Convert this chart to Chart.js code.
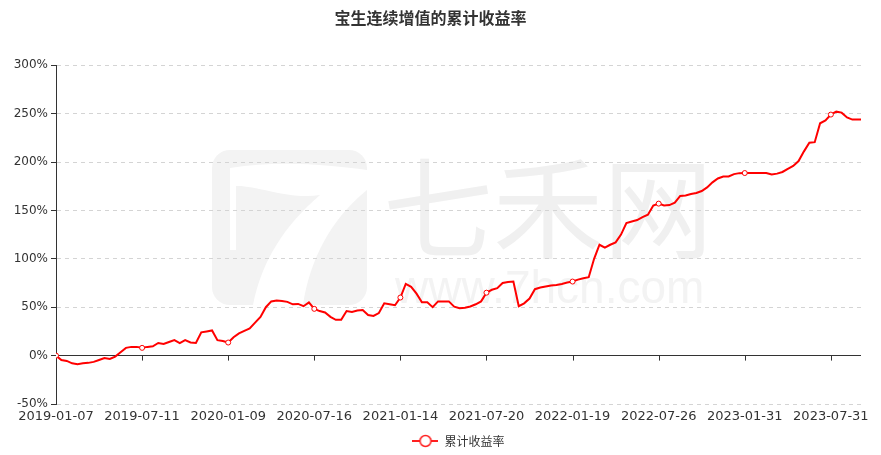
<!DOCTYPE html>
<html>
<head>
<meta charset="utf-8">
<script src="https://cdn.jsdelivr.net/npm/chart.js@4.4.0/dist/chart.umd.min.js"></script>
<style>
  html, body { margin: 0; padding: 0; background: #fff; }
</style>
</head>
<body>
<canvas id="chart" width="881" height="455"></canvas>
<script>
const chartTitle = '宝生连续增值的累计收益率';
const seriesName = '累计收益率';

// x轴刻度日期, 每隔16个采样点一个
const tickDates = ['2019-01-07', '2019-07-11', '2020-01-09', '2020-07-16', '2021-01-14',
  '2021-07-20', '2022-01-19', '2022-07-26', '2023-01-31', '2023-07-31'];
const pointsPerTick = 16;

// 累计收益率 (%)
const returns = [
  0, -4.5, -5.5, -8, -8.8, -8, -7.5, -6.5, -4.5, -2.5, -3.5, -1, 3.5, 8, 9, 9,
  8, 9, 9.6, 13, 12, 14, 16, 13, 16, 13.5, 13, 24, 25, 26, 16, 15,
  13.5, 19, 23, 25.5, 28, 34, 40, 50, 56, 57, 56.5, 55.5, 53, 53.4, 51, 55,
  48.3, 46, 44.5, 40, 37, 37, 46, 45, 46.6, 47, 42, 41, 44, 54, 53, 52,
  60, 74, 71, 64, 55, 55, 50, 56, 56, 56, 50.5, 49, 49.5, 50.7, 53, 56,
  65, 68, 69.7, 75, 76, 76.5, 51, 54, 59, 68.6, 70.3, 71.4, 72.5, 73, 74, 75.5,
  76.5, 78.5, 80, 81, 100, 114.5, 111.5, 114.5, 117, 125, 137, 138.6, 140, 143, 145.5, 155,
  157, 155, 155.5, 158, 165, 165.5, 167, 168, 170, 173.8, 179, 183, 185, 185, 187.5, 188.5,
  188.6, 188.6, 188.6, 188.6, 188.6, 187, 188, 189.7, 193, 196, 201, 211, 220, 220.5, 240, 243,
  249, 252, 251, 246, 243.8, 243.8, 243.8
];

const yMin = -50, yMax = 300, yStep = 50;
const xMax = 149.6;

Chart.defaults.font.family = "'DejaVu Sans', 'Noto Sans CJK SC', sans-serif";
Chart.defaults.color = '#333';

// 图例图标: 线 + 空心圆
const legendIcon = document.createElement('canvas');
legendIcon.width = 26;
legendIcon.height = 14;
const lc = legendIcon.getContext('2d');
lc.strokeStyle = '#ff2020';
lc.lineWidth = 2;
lc.beginPath(); lc.moveTo(0, 7); lc.lineTo(26, 7); lc.stroke();
lc.beginPath(); lc.arc(13, 7, 5.5, 0, Math.PI * 2);
lc.fillStyle = '#fff'; lc.fill();
lc.lineWidth = 1.5; lc.stroke();

// 背景水印
const watermark = {
  id: 'watermark',
  beforeDraw(chart) {
    const ctx = chart.ctx;
    ctx.save();
    ctx.fillStyle = '#f3f3f3';
    ctx.beginPath();
    ctx.roundRect(212, 150, 155, 155, 18);
    ctx.fill();
    ctx.fillStyle = '#fff';
    ctx.beginPath();
    ctx.moveTo(230, 168);
    ctx.bezierCurveTo(280, 160, 330, 165, 367, 170);
    ctx.lineTo(367, 190);
    ctx.bezierCurveTo(330, 220, 310, 260, 303, 305);
    ctx.lineTo(253, 305);
    ctx.bezierCurveTo(262, 260, 285, 225, 320, 195);
    ctx.bezierCurveTo(290, 200, 255, 185, 236, 186);
    ctx.lineTo(236, 250);
    ctx.lineTo(230, 250);
    ctx.closePath();
    ctx.fill();
    ctx.fillStyle = '#f0f0f0';
    ctx.textBaseline = 'alphabetic';
    ctx.textAlign = 'left';
    ctx.font = "110px 'Noto Sans CJK SC'";
    ctx.fillText('七禾网', 383, 250);
    ctx.fillStyle = '#f3f3f3';
    ctx.font = "46px 'Liberation Sans'";
    ctx.fillText('www.7hcn.com', 395, 303);
    ctx.restore();
  }
};

// 0轴上的刻度线
const zeroAxisTicks = {
  id: 'zeroAxisTicks',
  beforeDatasetsDraw(chart) {
    const {ctx, scales: {x, y}} = chart;
    const y0 = y.getPixelForValue(0);
    ctx.save();
    ctx.strokeStyle = '#333';
    ctx.lineWidth = 1;
    x.ticks.forEach(t => {
      const px = Math.round(x.getPixelForValue(t.value)) + 0.5;
      ctx.beginPath();
      ctx.moveTo(px, y0);
      ctx.lineTo(px, y0 + 5);
      ctx.stroke();
    });
    ctx.restore();
  }
};

new Chart(document.getElementById('chart'), {
  type: 'line',
  data: {
    datasets: [{
      label: seriesName,
      data: returns.map((v, i) => ({ x: i, y: v })),
      borderColor: '#ff0000',
      borderWidth: 2,
      tension: 0,
      pointRadius: ctx => (ctx.dataIndex % pointsPerTick === 0 ? 2.5 : 0),
      pointBackgroundColor: '#fff',
      pointBorderColor: '#ff0000',
      pointBorderWidth: 1
    }]
  },
  options: {
    responsive: false,
    animation: false,
    layout: { padding: { left: 0, right: 20, top: 0, bottom: -2 } },
    scales: {
      x: {
        type: 'linear',
        min: 0,
        max: xMax,
        grid: { display: false, drawTicks: false },
        border: { display: false },
        afterBuildTicks: s => {
          s.ticks = tickDates.map((d, i) => ({ value: i * pointsPerTick }));
        },
        afterFit: s => { s.height = 25; },
        ticks: {
          autoSkip: false,
          maxRotation: 0,
          padding: 5,
          color: '#333',
          font: { size: 13 },
          callback: v => tickDates[Math.round(v / pointsPerTick)]
        }
      },
      y: {
        min: yMin,
        max: yMax,
        afterFit: s => { s.width = 56; },
        ticks: {
          stepSize: yStep,
          padding: 3,
          color: '#333',
          font: { size: 12 },
          callback: v => v + '%'
        },
        grid: {
          color: ctx => (ctx.tick && ctx.tick.value === 0 ? '#333' : '#d4d4d4'),
          tickColor: '#333',
          tickLength: 5,
          lineWidth: 1
        },
        border: {
          display: true,
          color: '#333',
          width: 1,
          dash: ctx => (ctx.tick ? (ctx.tick.value === 0 ? [] : [4, 4]) : [])
        }
      }
    },
    plugins: {
      title: {
        display: true,
        text: chartTitle,
        color: '#333',
        font: { size: 16, weight: 'bold', family: "'Noto Sans CJK SC', sans-serif" },
        padding: { top: 8, bottom: 38 }
      },
      legend: {
        position: 'bottom',
        fullSize: false,
        labels: {
          usePointStyle: true,
          pointStyle: legendIcon,
          pointStyleWidth: 26,
          boxHeight: 12,
          padding: 6,
          color: '#333',
          font: { size: 12, family: "'Noto Sans CJK SC', sans-serif" }
        }
      },
      tooltip: { enabled: false }
    }
  },
  plugins: [watermark, zeroAxisTicks]
});
</script>
</body>
</html>
